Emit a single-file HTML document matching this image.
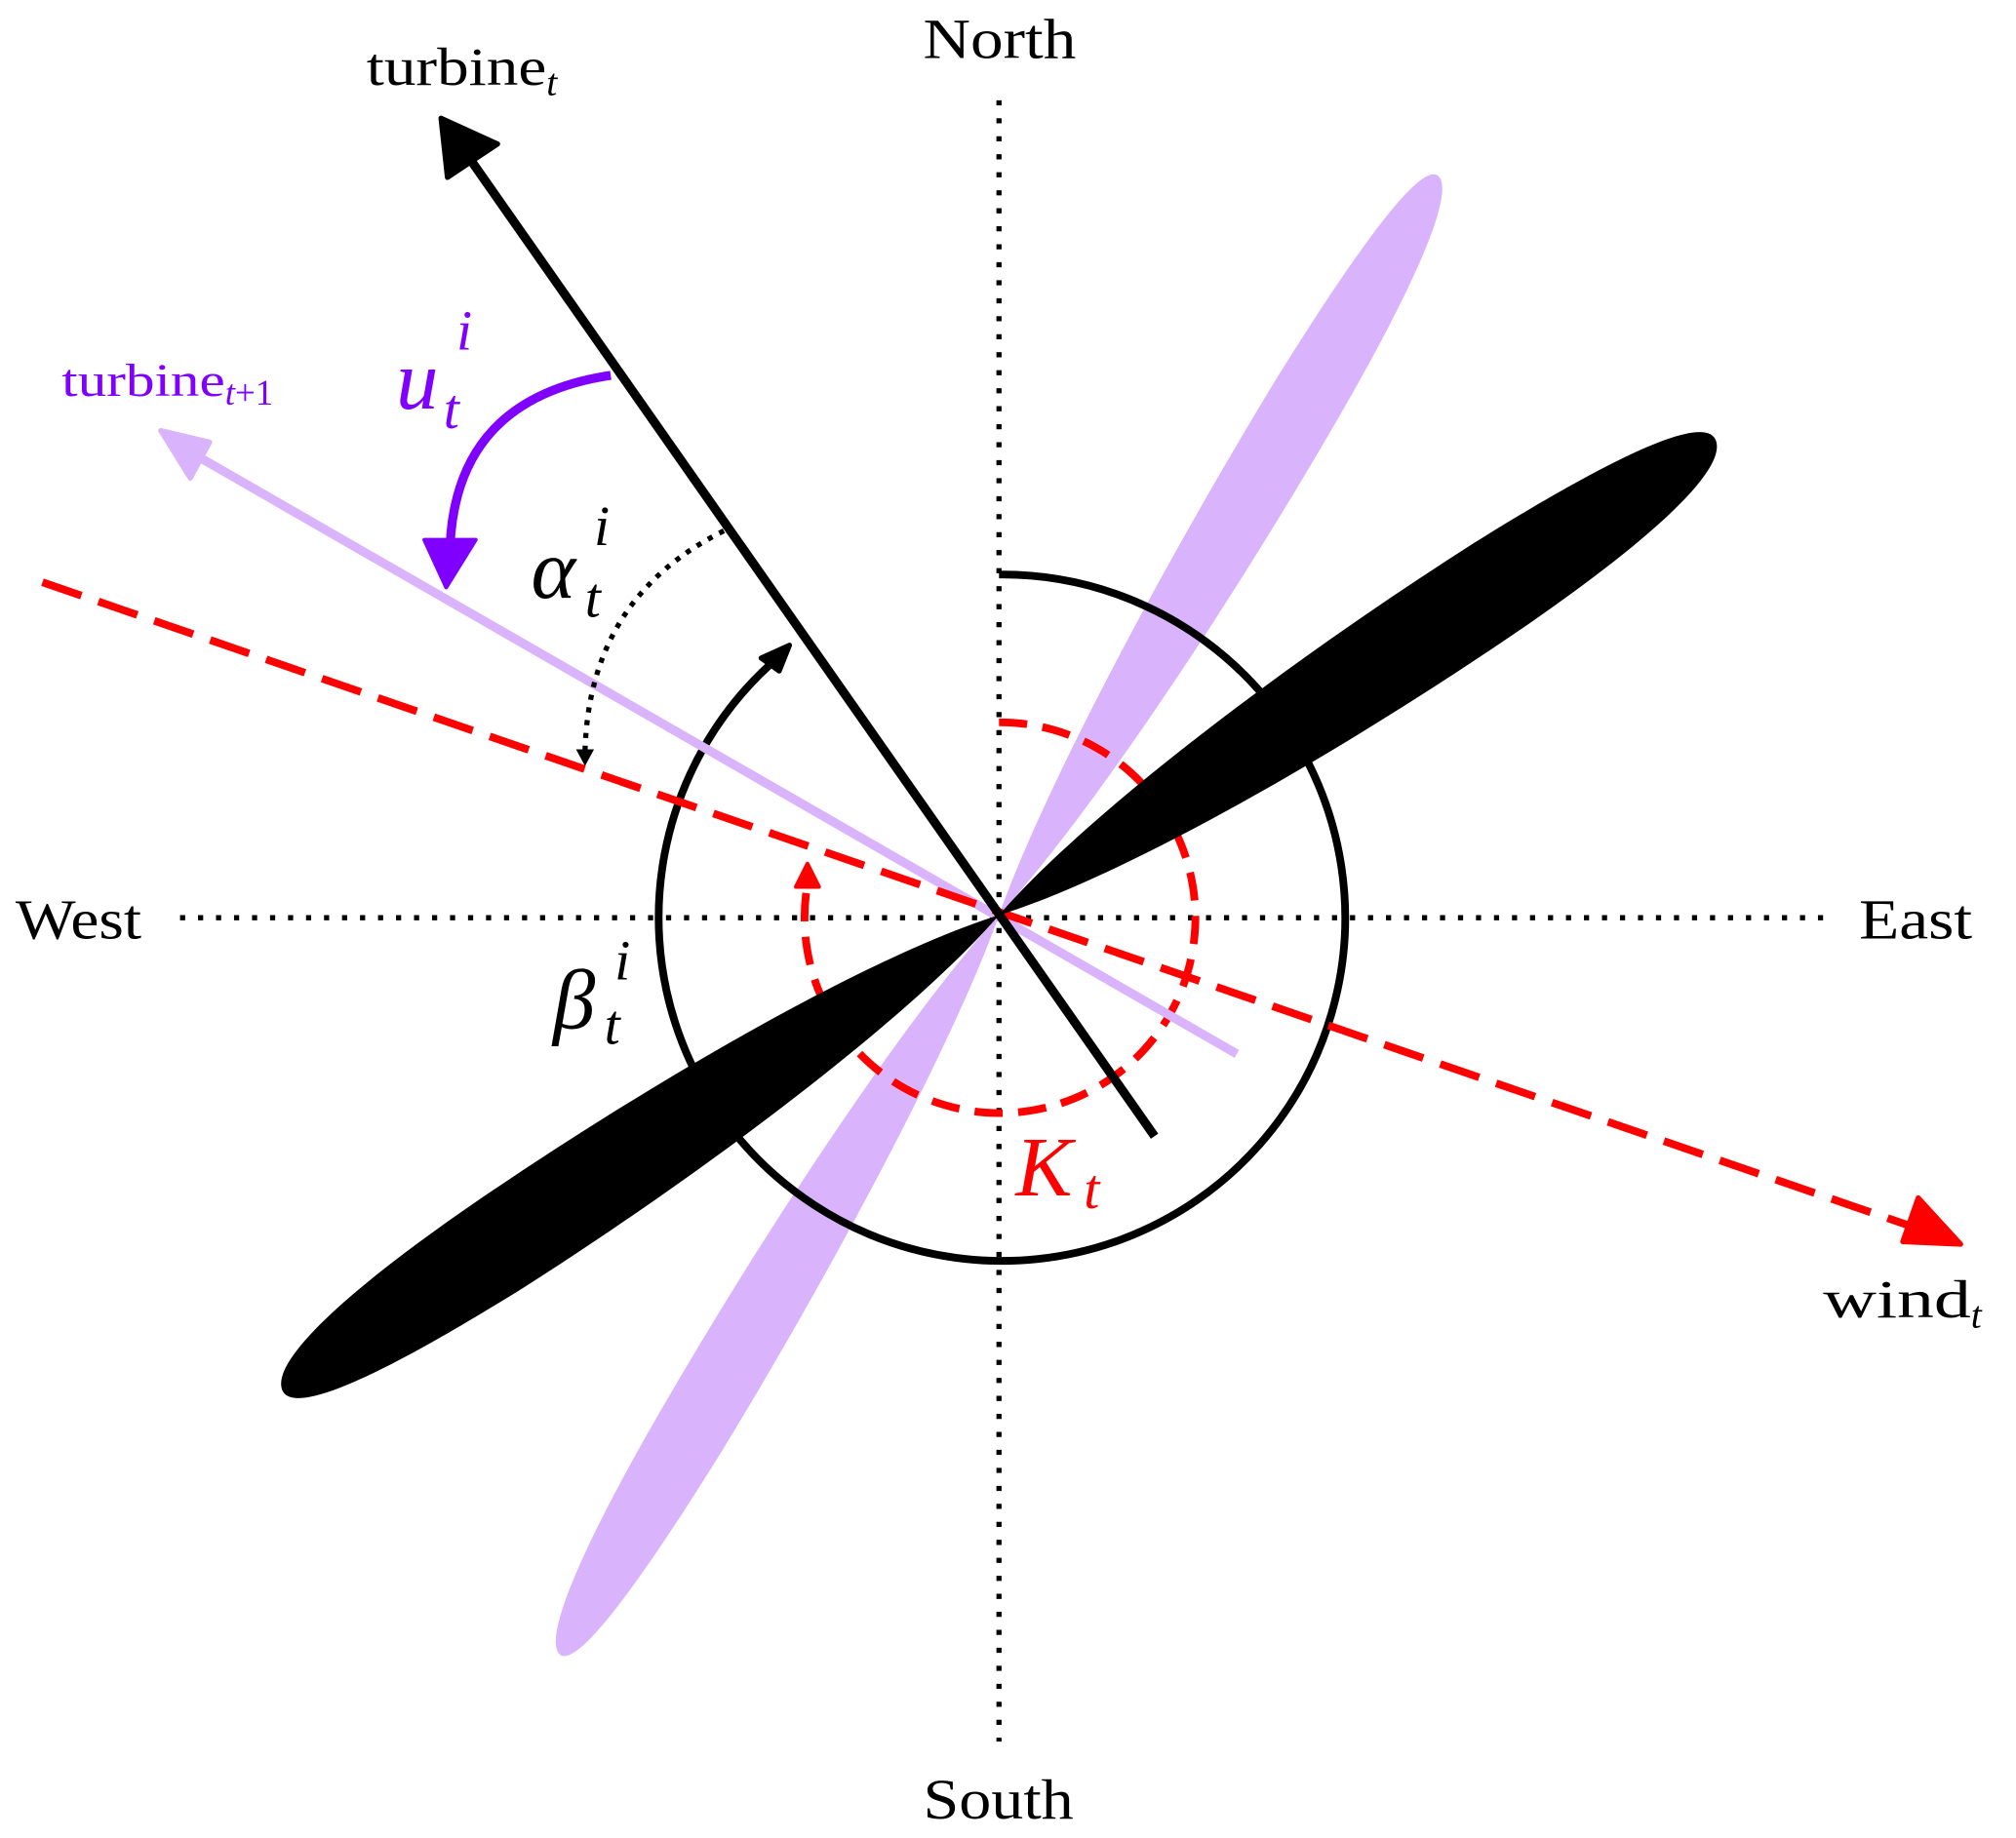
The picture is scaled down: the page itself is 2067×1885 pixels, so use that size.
<!DOCTYPE html>
<html><head><style>html,body{margin:0;padding:0;background:#fff}svg{display:block}</style></head><body>
<svg width="2067" height="1885" viewBox="0 0 1568 1430" xmlns="http://www.w3.org/2000/svg" font-family="Liberation Serif, serif">
<defs>
<path id="lobe" d="M0,0 C100,-28 300,-42 480,-40 C620,-37 690,-25 686,-4 C681,20 600,33 480,36 C300,40 100,28 0,0 Z"/>
<path id="plobe" d="M0,0 C100,-20 300,-31 480,-30 C620,-28 690,-19 686,-3 C681,15 600,25 480,27 C300,30 100,20 0,0 Z"/>
</defs>
<line x1="777" y1="78" x2="777" y2="1355" stroke="#000" stroke-width="4" stroke-dasharray="4,10"/>
<line x1="140" y1="714" x2="1420" y2="714" stroke="#000" stroke-width="4" stroke-dasharray="4,10"/>
<g transform="translate(777,712) rotate(-59) scale(0.975,1)" fill="#d9b3fb">
<use href="#plobe"/><use href="#plobe" transform="rotate(180)"/>
</g>
<path d="M777,447 A267,267 0 1 1 607,510" fill="none" stroke="#000" stroke-width="6"/>
<polygon points="614,502 592,512 606,522" fill="#000" stroke="#000" stroke-width="4" stroke-linejoin="round"/>
<path d="M777,562 A152,152 0 1 1 628,688" fill="none" stroke="#f00" stroke-width="6" stroke-dasharray="22,12"/>
<polygon points="628,672 619,690 637,690" fill="#f00" stroke="#f00" stroke-width="3" stroke-linejoin="round"/>
<line x1="962" y1="820" x2="145" y2="350" stroke="#d9b3fb" stroke-width="7"/>
<polygon points="125,335 163,344 148,372" fill="#d9b3fb" stroke="#d9b3fb" stroke-width="4" stroke-linejoin="round"/>
<line x1="33" y1="453" x2="1495" y2="957" stroke="#f00" stroke-width="6" stroke-dasharray="32,14"/>
<polygon points="1525,968 1492,932 1480,966" fill="#f00" stroke="#f00" stroke-width="4" stroke-linejoin="round"/>
<g transform="translate(777,712) rotate(-33.2) scale(0.975,1)" fill="#000">
<use href="#lobe"/><use href="#lobe" transform="rotate(180)"/>
</g>
<line x1="898" y1="884" x2="358" y2="113" stroke="#000" stroke-width="7"/>
<polygon points="343,92 348,138 387,112" fill="#000" stroke="#000" stroke-width="4" stroke-linejoin="round"/>
<path d="M475,292 Q355,310 350,425" fill="none" stroke="#7f00ff" stroke-width="7"/>
<polygon points="347,457 330,420 370,420" fill="#7f00ff" stroke="#7f00ff" stroke-width="3" stroke-linejoin="round"/>
<path d="M563,413 Q458,465 455,585" fill="none" stroke="#000" stroke-width="4" stroke-dasharray="4,6"/>
<polygon points="455,596 448,583 462,583" fill="#000"/>
<text x="718" y="45" font-size="44" textLength="119" lengthAdjust="spacingAndGlyphs">North</text>
<text x="718" y="1415" font-size="44" textLength="117" lengthAdjust="spacingAndGlyphs">South</text>
<text x="12" y="730" font-size="44" textLength="98" lengthAdjust="spacingAndGlyphs">West</text>
<text x="1446" y="730" font-size="44" textLength="88" lengthAdjust="spacingAndGlyphs">East</text>
<text x="285" y="66" font-size="42"><tspan textLength="140" lengthAdjust="spacingAndGlyphs">turbine</tspan><tspan font-style="italic" font-size="30" dy="8">t</tspan></text>
<text x="1418" y="1025" font-size="42"><tspan textLength="115" lengthAdjust="spacingAndGlyphs">wind</tspan><tspan font-style="italic" font-size="30" dy="8">t</tspan></text>
<text x="48" y="308" font-size="36" fill="#7f00ff"><tspan textLength="127" lengthAdjust="spacingAndGlyphs">turbine</tspan><tspan font-style="italic" font-size="28" dy="7">t</tspan><tspan font-size="28">+1</tspan></text>
<text x="308" y="318" font-size="66" font-style="italic" fill="#7f00ff">u</text>
<text x="355" y="272" font-size="44" font-style="italic" fill="#7f00ff">i</text>
<text x="345" y="333" font-size="44" font-style="italic" fill="#7f00ff">t</text>
<text x="413" y="465" font-size="66" font-style="italic">α</text>
<text x="462" y="424" font-size="44" font-style="italic">i</text>
<text x="455" y="480" font-size="44" font-style="italic">t</text>
<text x="430" y="800" font-size="66" font-style="italic">β</text>
<text x="478" y="762" font-size="44" font-style="italic">i</text>
<text x="470" y="812" font-size="44" font-style="italic">t</text>
<text x="790" y="930" font-size="66" font-style="italic" fill="#f00">K</text>
<text x="843" y="940" font-size="44" font-style="italic" fill="#f00">t</text>
</svg>
</body></html>
